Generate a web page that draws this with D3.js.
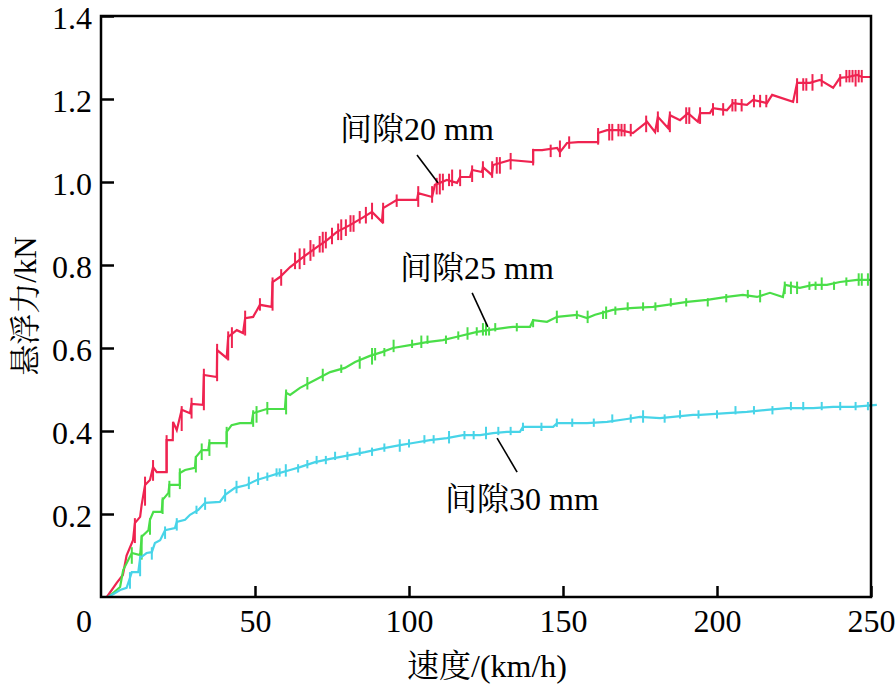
<!DOCTYPE html>
<html><head><meta charset="utf-8">
<script src="https://cdn.jsdelivr.net/npm/d3@7"></script>
<style>
html,body{margin:0;padding:0;background:#fff;}
</style></head>
<body><svg id="chart" width="896" height="690"></svg>
<script>
// ---- data ----
const xTicks = [50, 100, 150, 200, 250];
const yTicks = [0.2, 0.4, 0.6, 0.8, 1.0, 1.2, 1.4];
const xTitle = "速度/(km/h)";
const yTitle = "悬浮力/kN";
const seriesNames = ["间隙20 mm", "间隙25 mm", "间隙30 mm"];
const seriesColors = ["#ef2350", "#4ade48", "#48d4e8"];

// [speed km/h, force kN]
const gap20 = [[1.9,0],[5.1,0.034],[7.1,0.053],[8.3,0.10],[10.4,0.137],[11.0,0.178],[12.7,0.193],[13.2,0.222],[14.3,0.27],[15.9,0.282],[16.9,0.313],[18.1,0.301],[21.3,0.301],[21.3,0.378],[23.3,0.378],[23.4,0.422],[24.6,0.402],[26.2,0.451],[28.9,0.443],[29.4,0.465],[33.1,0.463],[33.4,0.535],[37.6,0.530],[37.7,0.595],[40.8,0.576],[41.3,0.627],[44.1,0.643],[46.1,0.636],[46.8,0.672],[49.4,0.675],[51.6,0.704],[55.4,0.699],[55.7,0.759],[58.1,0.771],[61.4,0.795],[65.6,0.819],[70.1,0.843],[73.4,0.860],[76.6,0.880],[80.8,0.896],[84.7,0.913],[88.0,0.928],[91.2,0.904],[91.6,0.937],[96.1,0.957],[102.6,0.957],[103,0.973],[107.5,0.964],[108.4,0.993],[112.3,1.005],[115.6,0.998],[116.6,1.012],[119.8,1.012],[120.5,1.029],[123.7,1.024],[124.0,1.036],[126.9,1.017],[127.3,1.041],[132.8,1.053],[140.3,1.048],[140.3,1.077],[143.2,1.077],[148.1,1.082],[149.0,1.072],[151.3,1.094],[154.9,1.096],[161.4,1.096],[161.4,1.118],[164.3,1.125],[168.5,1.125],[172.7,1.118],[177.3,1.145],[179.9,1.120],[180.8,1.157],[184.1,1.130],[184.7,1.161],[188.0,1.149],[190.6,1.166],[193.8,1.145],[194.5,1.166],[197.7,1.166],[198.7,1.178],[203.2,1.173],[205.2,1.190],[209.7,1.186],[211.7,1.198],[216.2,1.190],[217.9,1.210],[224.7,1.193],[226,1.239],[230.2,1.239],[233.4,1.246],[237.7,1.227],[239.9,1.251],[242.5,1.253],[245.5,1.258],[247.1,1.253],[250,1.253]];
const gap25 = [[2.4,0],[6.2,0.024],[7.2,0.065],[10.0,0.106],[12.7,0.101],[13.2,0.145],[15.4,0.161],[15.9,0.186],[17.0,0.205],[19.7,0.205],[20.0,0.234],[21.9,0.251],[22.2,0.270],[25.6,0.270],[25.6,0.299],[27.3,0.306],[30.5,0.311],[30.8,0.337],[32.7,0.354],[34.8,0.354],[35.2,0.371],[40.8,0.371],[40.8,0.398],[42.4,0.414],[45.1,0.419],[48.9,0.419],[49.4,0.443],[53.8,0.453],[59.7,0.453],[60.1,0.492],[61.4,0.487],[64.6,0.504],[69.5,0.523],[74.4,0.542],[79.2,0.552],[82.5,0.566],[87.3,0.581],[91.2,0.590],[94.8,0.600],[100.3,0.607],[105.8,0.614],[111.0,0.619],[115.6,0.627],[122.1,0.639],[125.6,0.643],[130.5,0.648],[133.8,0.651],[139.3,0.651],[140.3,0.667],[144.8,0.663],[148.1,0.675],[154.5,0.680],[157.8,0.672],[160.4,0.680],[166.2,0.692],[171.8,0.696],[179.2,0.699],[183.8,0.704],[190.3,0.711],[196.8,0.716],[203.2,0.723],[208.4,0.728],[213.0,0.723],[217.2,0.733],[221.4,0.723],[222.1,0.752],[226.9,0.745],[231.2,0.752],[235.7,0.752],[239.9,0.759],[245.5,0.764],[249.7,0.764]];
const gap30 = [[2.4,0],[6.2,0.017],[8.3,0.022],[9.4,0.046],[10.0,0.060],[12.1,0.060],[12.7,0.094],[14.8,0.106],[16.5,0.108],[17.5,0.130],[19.2,0.137],[20.8,0.161],[24.0,0.166],[24.6,0.181],[27.3,0.186],[28.9,0.198],[31.6,0.210],[33.8,0.227],[38.6,0.229],[40.3,0.246],[43.5,0.263],[47.3,0.270],[50.6,0.282],[53.8,0.289],[58.1,0.299],[61.4,0.306],[64.6,0.313],[69.5,0.325],[74.4,0.333],[80.8,0.342],[85.7,0.349],[90.6,0.357],[97.1,0.366],[101.3,0.371],[106.8,0.378],[112.3,0.383],[117.5,0.390],[123.1,0.390],[127.3,0.395],[131.8,0.398],[136.0,0.398],[137.0,0.410],[141.6,0.410],[146.8,0.410],[148.1,0.419],[153.2,0.419],[157.8,0.419],[164.3,0.422],[170.8,0.429],[175.0,0.434],[181.5,0.431],[185.7,0.434],[192.2,0.439],[194.5,0.439],[203.2,0.443],[209.7,0.446],[216.2,0.451],[222.7,0.455],[231.2,0.455],[237.7,0.458],[244.2,0.458],[251.9,0.463]];

// measurement jitter: [speed, low, high]
const spikes20 = [[11.0,0.13,0.19],[14.3,0.22,0.29],[16.9,0.28,0.33],[21.3,0.30,0.39],[26.2,0.40,0.46],[29.4,0.43,0.48],[33.4,0.45,0.55],[37.7,0.52,0.61],[41.3,0.57,0.64],[42.5,0.60,0.65],[46.8,0.63,0.69],[51.6,0.69,0.72],[55.7,0.69,0.77],[58.5,0.75,0.79],[63,0.79,0.83],[64.5,0.79,0.84],[66,0.80,0.84],[68,0.81,0.86],[69,0.82,0.85],[71,0.83,0.87],[72,0.83,0.88],[73,0.84,0.88],[75,0.85,0.89],[77,0.86,0.90],[78,0.86,0.91],[79.5,0.87,0.91],[81,0.88,0.92],[82,0.88,0.92],[84,0.90,0.93],[86,0.90,0.94],[88,0.91,0.95],[91.6,0.90,0.95],[96,0.94,0.97],[103,0.94,0.99],[107.5,0.95,0.99],[109,0.97,1.01],[110,0.97,1.02],[111,0.98,1.02],[113,0.99,1.02],[114,0.99,1.03],[116.6,0.99,1.03],[120.5,1.00,1.04],[124,1.01,1.05],[127,1.01,1.05],[128.5,1.02,1.06],[129.5,1.02,1.06],[133,1.03,1.07],[140.3,1.04,1.08],[146,1.06,1.09],[149,1.06,1.10],[152,1.08,1.11],[161.4,1.09,1.13],[165,1.10,1.14],[166,1.10,1.14],[168,1.11,1.14],[169,1.11,1.14],[170,1.11,1.14],[172,1.11,1.14],[177,1.12,1.16],[180.8,1.12,1.17],[184.7,1.12,1.17],[190,1.14,1.18],[191,1.14,1.18],[194.5,1.14,1.18],[198.7,1.16,1.19],[202,1.16,1.19],[205,1.17,1.20],[206,1.17,1.20],[208,1.17,1.20],[212,1.18,1.21],[214,1.18,1.21],[216,1.18,1.21],[226,1.19,1.25],[228,1.22,1.25],[229,1.22,1.25],[231,1.22,1.26],[234,1.23,1.26],[240,1.23,1.26],[242,1.24,1.27],[243,1.24,1.27],[244,1.24,1.27],[245,1.23,1.27],[246,1.24,1.27],[247,1.24,1.27]];
const spikes25 = [[10,0.08,0.12],[13.2,0.09,0.15],[15.9,0.15,0.19],[20,0.20,0.24],[22.2,0.24,0.28],[25.6,0.26,0.31],[30.8,0.30,0.34],[32.7,0.33,0.37],[35.2,0.34,0.38],[40.8,0.36,0.41],[49.4,0.41,0.45],[50.5,0.42,0.46],[54,0.44,0.47],[60.1,0.44,0.50],[67,0.50,0.53],[72,0.52,0.55],[78,0.54,0.56],[84,0.55,0.58],[88,0.56,0.60],[89,0.57,0.60],[92,0.58,0.60],[95,0.59,0.62],[101,0.60,0.62],[104,0.60,0.63],[106,0.61,0.63],[112,0.61,0.63],[116,0.62,0.64],[119,0.62,0.65],[122,0.63,0.65],[124,0.63,0.66],[125,0.63,0.66],[126,0.63,0.65],[128,0.64,0.66],[135,0.64,0.66],[140.3,0.65,0.67],[148,0.66,0.69],[154.5,0.67,0.69],[158,0.66,0.69],[163,0.67,0.69],[164,0.67,0.70],[167,0.68,0.70],[171,0.69,0.71],[176,0.69,0.71],[180,0.69,0.71],[185,0.70,0.72],[190,0.70,0.72],[197,0.70,0.72],[203,0.71,0.73],[210,0.72,0.74],[214,0.71,0.74],[222,0.73,0.76],[224,0.73,0.76],[226,0.73,0.76],[230,0.74,0.76],[232,0.74,0.76],[234,0.74,0.77],[238,0.74,0.76],[242,0.75,0.77],[246,0.75,0.78],[247,0.75,0.78],[249,0.75,0.78]];
const spikes30 = [[9.4,0.02,0.06],[12.7,0.05,0.10],[16.5,0.09,0.12],[20.8,0.14,0.17],[24.6,0.16,0.19],[31,0.20,0.22],[33.8,0.21,0.24],[40.3,0.23,0.26],[44,0.25,0.28],[48,0.26,0.29],[51,0.27,0.30],[54,0.28,0.30],[57,0.29,0.31],[58,0.29,0.31],[60,0.29,0.32],[64,0.30,0.32],[67,0.31,0.33],[70,0.32,0.34],[73,0.32,0.34],[76,0.33,0.35],[80,0.33,0.35],[84,0.34,0.36],[88,0.34,0.36],[92,0.35,0.37],[97,0.35,0.38],[100,0.36,0.38],[105,0.37,0.39],[108,0.37,0.39],[113,0.37,0.40],[118,0.38,0.40],[121,0.38,0.40],[125,0.38,0.41],[129,0.39,0.41],[133,0.39,0.41],[137,0.40,0.42],[143,0.40,0.42],[148,0.41,0.43],[153,0.41,0.43],[160,0.41,0.43],[166,0.42,0.44],[172,0.42,0.44],[176,0.42,0.45],[183,0.42,0.44],[188,0.43,0.45],[194,0.43,0.45],[200,0.43,0.45],[206,0.44,0.46],[212,0.44,0.46],[218,0.44,0.46],[224,0.45,0.47],[228,0.45,0.47],[234,0.45,0.47],[240,0.45,0.47],[245,0.45,0.47],[249,0.45,0.47]];

// annotation anchors in data units: [textX, textY, lineX1, lineY1, lineX2, lineY2]
const labelAnchors = [[77.6,1.101,102.6,1.065,109.4,0.998],[97.1,0.766,120.5,0.733,125.6,0.651],[111.7,0.210,128.6,0.383,135.1,0.301]];

// ---- drawing ----
const svg = d3.select("#chart");
const m = {left:101, top:16, right:896-871, bottom:690-597};
const W = 896 - m.left - m.right, H = 690 - m.top - m.bottom;
const x = d3.scaleLinear().domain([0,250]).range([0,W]);
const y = d3.scaleLinear().domain([0,1.4]).range([H,0]);
const g = svg.append("g").attr("transform",`translate(${m.left},${m.top})`);
const LATIN = '"Liberation Serif"';
const CJK = '"Noto Serif CJK SC"';

// write mixed text as runs: CJK glyphs in a Song face, the rest in a Times-like face
function mixed(sel, str){
  const runs = str.match(/[\u3400-\u9fff]+|[^\u3400-\u9fff]+/g);
  sel.selectAll("tspan").data(runs).join("tspan")
    .style("font-family", d => /[\u3400-\u9fff]/.test(d) ? CJK : LATIN)
    .text(d=>d);
}

const series = [gap20, gap25, gap30];
const spikes = [spikes20, spikes25, spikes30];
const line = d3.line().x(d=>x(d[0])).y(d=>y(d[1]));

series.forEach((s,i)=>{
  g.append("g").selectAll("line").data(spikes[i]).join("line")
    .attr("x1",d=>x(d[0])).attr("x2",d=>x(d[0]))
    .attr("y1",d=>y(d[1])).attr("y2",d=>y(d[2]))
    .attr("stroke",seriesColors[i]).attr("stroke-width",2);
  g.append("path").datum(s).attr("d",line)
    .attr("fill","none").attr("stroke",seriesColors[i]).attr("stroke-width",2.2)
    .attr("stroke-linejoin","miter");
});

// frame
g.append("rect").attr("x",0).attr("y",0).attr("width",W).attr("height",H)
  .attr("fill","none").attr("stroke","#000").attr("stroke-width",2.5);

const fontSize = 32;
const yAxis = d3.axisLeft(y).tickValues(yTicks).tickSize(-13).tickPadding(9).tickFormat(d3.format(".1f"));
const xAxis = d3.axisBottom(x).tickValues(xTicks).tickSize(-11).tickPadding(12).tickFormat(d3.format("d"));
const ya = g.append("g").call(yAxis);
const xa = g.append("g").attr("transform",`translate(0,${H})`).call(xAxis);
[ya,xa].forEach(a=>{
  a.attr("font-family",LATIN).attr("font-size",fontSize);
  a.select(".domain").remove();
  a.selectAll(".tick line").attr("stroke","#000").attr("stroke-width",2.5);
  a.selectAll(".tick text").attr("fill","#000");
});
ya.selectAll(".tick text").attr("dy","0.4em");
// origin label
g.append("text").attr("x",-9).attr("y",H+35).attr("text-anchor","end")
  .attr("font-size",fontSize).style("font-family",LATIN).text("0");

// axis titles
mixed(svg.append("text").attr("x",487).attr("y",677).attr("text-anchor","middle")
  .attr("font-size",fontSize), xTitle);
mixed(svg.append("text").attr("transform","translate(36,306) rotate(-90)").attr("text-anchor","middle")
  .attr("font-size",31), yTitle);

// annotations
labelAnchors.forEach((a,i)=>{
  g.append("line").attr("x1",x(a[2])).attr("y1",y(a[3])).attr("x2",x(a[4])).attr("y2",y(a[5]))
    .attr("stroke","#000").attr("stroke-width",1.6);
  mixed(g.append("text").attr("x",x(a[0])).attr("y",y(a[1])).attr("font-size",fontSize), seriesNames[i]);
});
</script></body></html>
